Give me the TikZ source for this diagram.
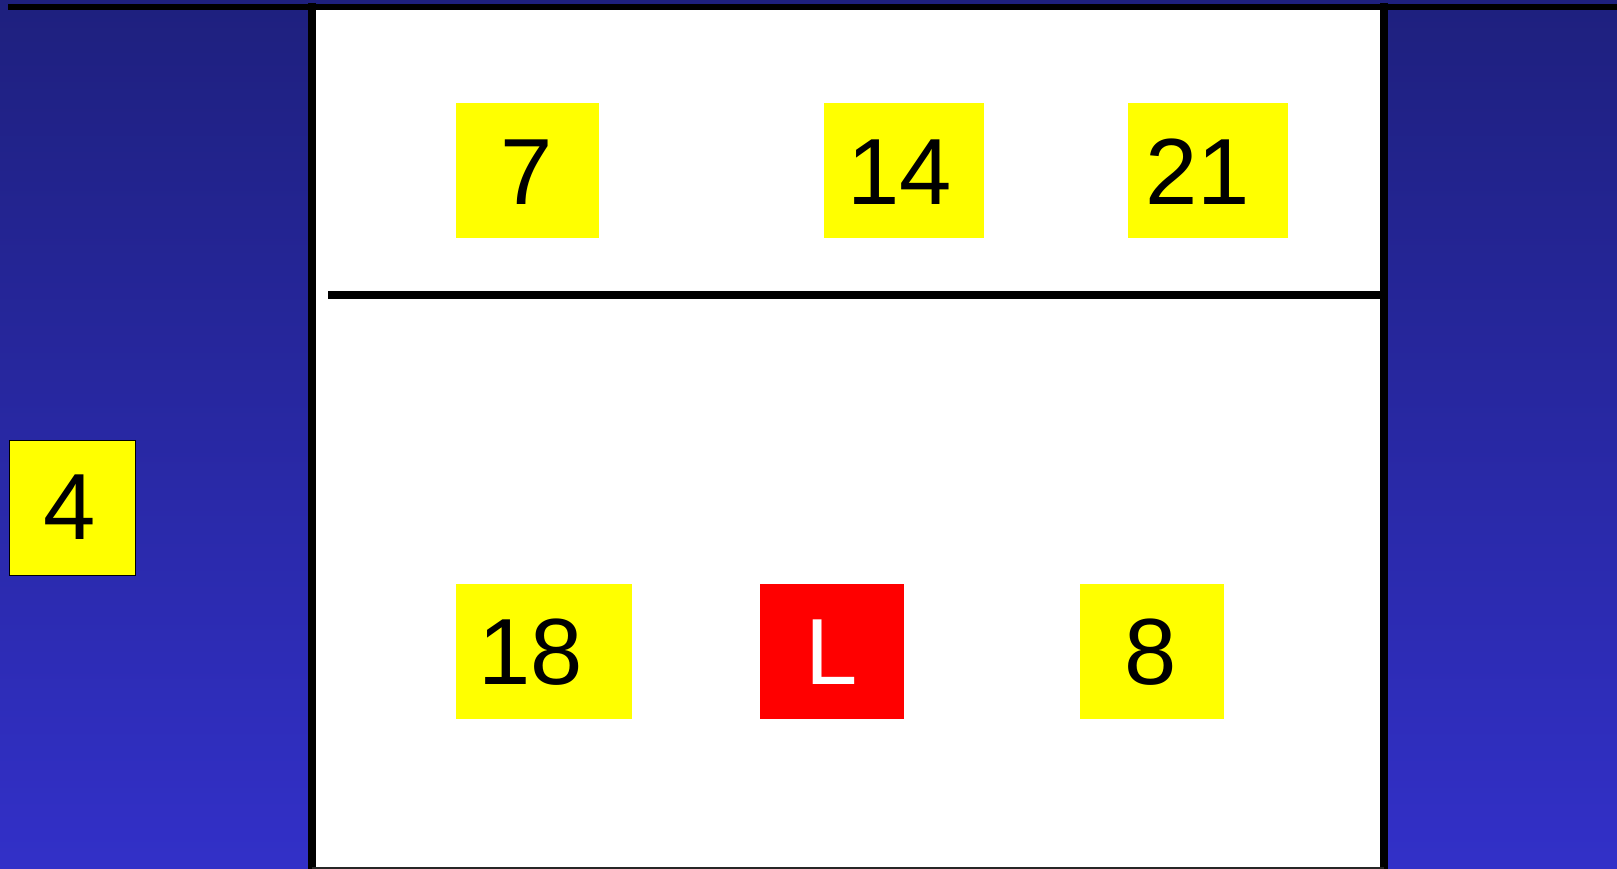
\documentclass[tikz,border=0pt]{standalone}
\usepackage{fontspec}
\setmainfont{Liberation Sans}
\definecolor{bgtop}{RGB}{30,32,126}
\definecolor{bgbot}{RGB}{50,48,200}
\definecolor{ylw}{RGB}{255,255,0}
\definecolor{rd}{RGB}{255,0,0}
\begin{document}
\begin{tikzpicture}[x=1pt,y=-1pt,
  player/.style={fill=ylw,draw=none,inner sep=0,minimum width=#1,minimum height=135pt,anchor=north west},
  num/.style={inner sep=0,font=\fontsize{94}{94}\selectfont,text=black},
  courtline/.style={line width=8pt,draw=black}]
\useasboundingbox (0,0) rectangle (1617,869);
\shade[top color=bgtop,bottom color=bgbot] (0,0) rectangle (1617,869);
% court
\fill[white] (312,7) rectangle (1384,867);
\coordinate (tl) at (8,7);
\coordinate (tr) at (1617,7);
\draw[line width=6pt] (tl) -- (tr);
\coordinate (lt) at (312,3);
\coordinate (lb) at (312,869);
\coordinate (rt) at (1384,3);
\coordinate (rb) at (1384,869);
\draw[courtline] (lt) -- (lb);
\draw[courtline] (rt) -- (rb);
\coordinate (bl) at (312,868);
\coordinate (br) at (1384,868);
\draw[line width=2pt,draw=black!85] (bl) -- (br);
\coordinate (ml) at (328,295);
\coordinate (mr) at (1380,295);
\draw[courtline] (ml) -- (mr);
% players
\node[player=126pt,minimum height=135pt,draw=black,line width=1.5pt] (b4) at (8.75,439.5) {};
\node[num] (t4) at (70,507) {4};
\node[player=143pt] (b7) at (456,103) {};
\node[num] (t7) at (527,172) {7};
\node[player=160pt] (b14) at (824,103) {};
\node[num] (t14) at (900,172) {14};
\node[player=160pt] (b21) at (1128,103) {};
\node[num] (t21) at (1198,172) {21};
\node[player=176pt] (b18) at (456,584) {};
\node[num] (t18) at (531,652) {18};
\node[player=144pt,fill=rd] (bL) at (760,584) {};
\node[num,text=white] (tL) at (832,652) {L};
\node[player=144pt] (b8) at (1080,584) {};
\node[num] (t8) at (1151,652) {8};
\end{tikzpicture}
\end{document}
